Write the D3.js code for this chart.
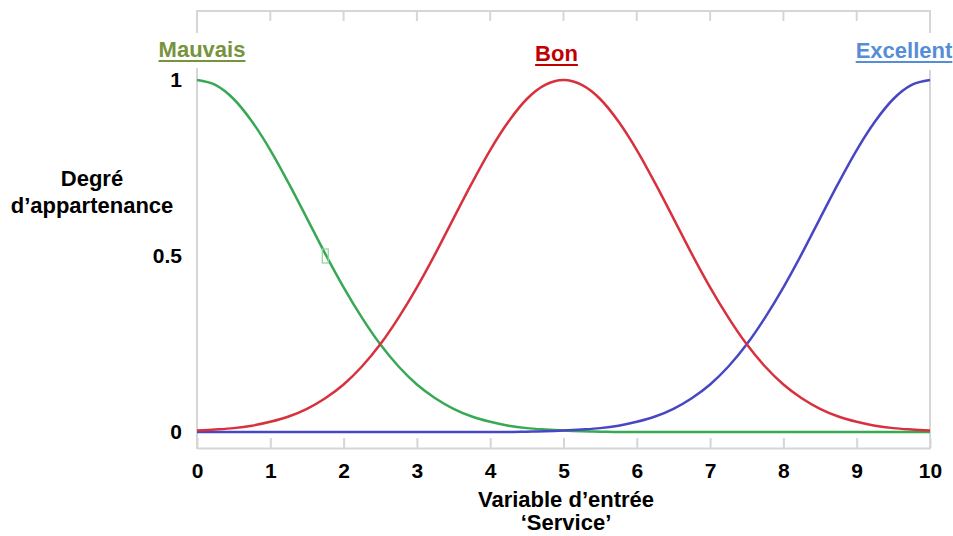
<!DOCTYPE html>
<html>
<head>
<meta charset="utf-8">
<script src="https://cdn.jsdelivr.net/npm/d3@7"></script>
<style>
  html, body { margin: 0; padding: 0; background: #fff; }
  svg { display: block; }
  text { font-family: "Liberation Sans", Arial, sans-serif; font-weight: bold; }
</style>
</head>
<body>
<svg id="chart" width="953" height="536"></svg>
<script>
// Input variable "Service" (0..10), sampled every quarter unit
const serviceValues = [
  0, 0.25, 0.5, 0.75, 1, 1.25, 1.5, 1.75, 2, 2.25, 2.5, 2.75, 3, 3.25, 3.5, 3.75, 4, 4.25, 4.5, 4.75,
  5, 5.25, 5.5, 5.75, 6, 6.25, 6.5, 6.75, 7, 7.25, 7.5, 7.75, 8, 8.25, 8.5, 8.75, 9, 9.25, 9.5, 9.75, 10
];

// Membership degrees of the three fuzzy sets
const mauvais = [
  1, 0.986, 0.946, 0.882, 0.801, 0.707, 0.607, 0.506, 0.411, 0.325, 0.249, 0.186, 0.135, 0.096, 0.066, 0.044,
  0.029, 0.018, 0.011, 0.007, 0.004, 0.002, 0.001, 0, 0, 0, 0, 0, 0, 0, 0, 0, 0, 0, 0, 0, 0, 0, 0, 0, 0
];
const bon = [
  0.004, 0.007, 0.011, 0.018, 0.029, 0.044, 0.066, 0.096, 0.135, 0.186, 0.249, 0.325, 0.411, 0.506, 0.607,
  0.707, 0.801, 0.882, 0.946, 0.986, 1, 0.986, 0.946, 0.882, 0.801, 0.707, 0.607, 0.506, 0.411, 0.325,
  0.249, 0.186, 0.135, 0.096, 0.066, 0.044, 0.029, 0.018, 0.011, 0.007, 0.004
];
const excellent = [
  0, 0, 0, 0, 0, 0, 0, 0, 0, 0, 0, 0, 0, 0, 0, 0, 0, 0, 0.001, 0.002, 0.004, 0.007, 0.011, 0.018, 0.029,
  0.044, 0.066, 0.096, 0.135, 0.186, 0.249, 0.325, 0.411, 0.506, 0.607, 0.707, 0.801, 0.882, 0.946, 0.986, 1
];

const setNames  = ["Mauvais", "Bon", "Excellent"];
const xTicks    = [0, 1, 2, 3, 4, 5, 6, 7, 8, 9, 10];
const yTicks    = [0, 0.5, 1];
const yTickText = ["0", "0.5", "1"];

// Marker point on the Mauvais curve
const markerPoint = [1.75, 0.5];

const svg = d3.select("#chart");
const x = d3.scaleLinear().domain([0, 10]).range([197, 930]);
const y = d3.scaleLinear().domain([0, 1]).range([432, 80]);

const frameColor = "#d6d6d6";
const frame = svg.append("g").attr("stroke", frameColor).attr("stroke-width", 2).attr("fill", "none");

// Top edge with downward ticks
frame.append("line").attr("x1", x(0)).attr("x2", x(10)).attr("y1", 11).attr("y2", 11);
frame.selectAll(".tt").data(xTicks.slice(1, -1)).join("line")
  .attr("x1", d => x(d)).attr("x2", d => x(d)).attr("y1", 11).attr("y2", 21);

// Side edges (interrupted behind the corner labels)
frame.append("line").attr("x1", x(0)).attr("x2", x(0)).attr("y1", 10).attr("y2", 33);
frame.append("line").attr("x1", x(0)).attr("x2", x(0)).attr("y1", 68).attr("y2", 449);
frame.append("line").attr("x1", x(10)).attr("x2", x(10)).attr("y1", 10).attr("y2", 33);
frame.append("line").attr("x1", x(10)).attr("x2", x(10)).attr("y1", 70).attr("y2", 449);

// Bottom axis: ticks pointing up, bold labels below
const xAxis = d3.axisBottom(x).tickValues(xTicks).tickSizeInner(-10).tickSizeOuter(0).tickPadding(15)
  .tickFormat(d3.format("d"));
const gx = svg.append("g").attr("transform", "translate(0,448)").call(xAxis);
gx.select(".domain").attr("stroke", frameColor).attr("stroke-width", 2);
gx.selectAll(".tick line").attr("stroke", frameColor).attr("stroke-width", 2);
gx.selectAll(".tick text").attr("fill", "#000").attr("font-size", 21)
  .attr("font-family", "'Liberation Sans', Arial, sans-serif").attr("font-weight", "bold");

// Left axis labels
const yAxis = d3.axisLeft(y).tickValues(yTicks).tickSize(0).tickPadding(15)
  .tickFormat((d, i) => yTickText[i]);
const gy = svg.append("g").attr("transform", `translate(${x(0)},0)`).call(yAxis);
gy.select(".domain").remove();
gy.selectAll(".tick text").attr("fill", "#000").attr("font-size", 21)
  .attr("font-family", "'Liberation Sans', Arial, sans-serif").attr("font-weight", "bold");

// Membership curves
const series = [
  { name: setNames[0], values: mauvais,   color: "#37a955" },
  { name: setNames[2], values: excellent, color: "#4747c4" },
  { name: setNames[1], values: bon,       color: "#d8313e" }
];
const line = d3.line()
  .x((d, i) => x(serviceValues[i]))
  .y(d => y(d))
  .curve(d3.curveMonotoneX);
svg.append("g").selectAll("path").data(series).join("path")
  .attr("d", d => line(d.values))
  .attr("fill", "none")
  .attr("stroke", d => d.color)
  .attr("stroke-width", 2.5)
  .attr("stroke-linejoin", "round");

// Small marker box on the Mauvais curve
svg.append("rect")
  .attr("x", x(markerPoint[0]) - 3).attr("y", y(markerPoint[1]) - 7)
  .attr("width", 6).attr("height", 14)
  .attr("fill", "none").attr("stroke", "#8fd39f").attr("stroke-width", 1.2);

// Set names above the curves, underlined
const setLabels = [
  { text: setNames[0], cx: x(0) + 5,  base: 57, color: "#77933c" },
  { text: setNames[1], cx: x(5) - 7,  base: 61, color: "#c00000" },
  { text: setNames[2], cx: x(10) - 26, base: 58, color: "#558ed5" }
];
setLabels.forEach(l => {
  const t = svg.append("text")
    .attr("x", l.cx).attr("y", l.base)
    .attr("text-anchor", "middle")
    .attr("font-size", 22)
    .attr("fill", l.color)
    .text(l.text);
  const w = t.node().getComputedTextLength();
  svg.append("rect")
    .attr("x", l.cx - w / 2).attr("y", l.base + 3)
    .attr("width", w).attr("height", 2)
    .attr("fill", l.color);
});

// Axis titles
const yTitle = svg.append("text").attr("text-anchor", "middle").attr("font-size", 22).attr("fill", "#000");
yTitle.append("tspan").attr("x", 92).attr("y", 186).text("Degré");
yTitle.append("tspan").attr("x", 92).attr("y", 213).text("d’appartenance");

const xTitle = svg.append("text").attr("text-anchor", "middle").attr("font-size", 22).attr("fill", "#000");
xTitle.append("tspan").attr("x", 566).attr("y", 507).text("Variable d’entrée");
xTitle.append("tspan").attr("x", 566).attr("y", 530).text("‘Service’");
</script>
</body>
</html>
